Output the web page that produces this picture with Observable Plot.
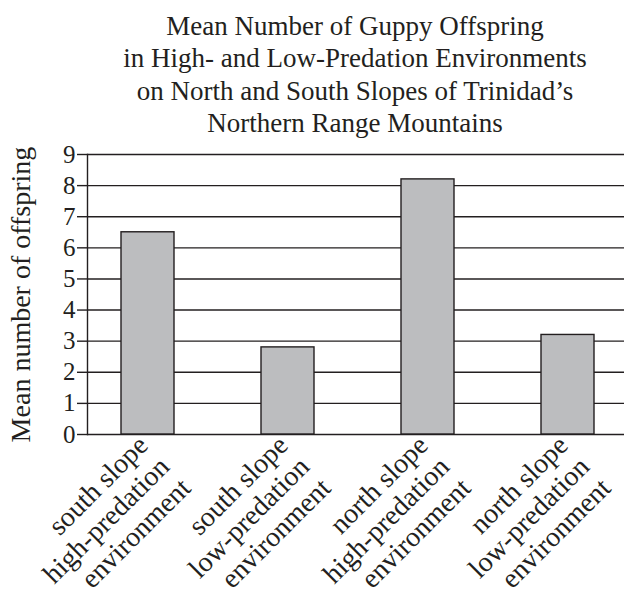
<!DOCTYPE html>
<html>
<head>
<meta charset="utf-8">
<script src="https://cdn.jsdelivr.net/npm/d3@7"></script>
<script src="https://cdn.jsdelivr.net/npm/@observablehq/plot@0.6"></script>
<style>
  html, body { margin: 0; padding: 0; background: #fff; }
  #wrap { width: 625px; height: 591px; overflow: hidden; }
  #title {
    box-sizing: border-box; height: 140px; padding-top: 10px; padding-left: 85px;
    text-align: center; font-family: "Liberation Serif", "DejaVu Serif", serif;
    font-size: 27px; line-height: 32.3px; color: #231f20;
  }
  svg { display: block; overflow: visible; }
</style>
</head>
<body>
<div id="wrap">
  <div id="title">Mean Number of Guppy Offspring<br>in High- and Low-Predation Environments<br>on North and South Slopes of Trinidad’s<br>Northern Range Mountains</div>
  <div id="chart"></div>
</div>
<script>
const categories = [
  "south slope\nhigh-predation\nenvironment",
  "south slope\nlow-predation\nenvironment",
  "north slope\nhigh-predation\nenvironment",
  "north slope\nlow-predation\nenvironment"
];
const values = [6.5, 2.8, 8.2, 3.2];
const yTicks = [0, 1, 2, 3, 4, 5, 6, 7, 8, 9];
const yLabel = "Mean number of offspring";

const data = categories.map((c, i) => ({category: c, value: values[i]}));
const ink = "#231f20";
const serif = "Liberation Serif, DejaVu Serif, serif";

const chart = Plot.plot({
  width: 625,
  height: 451,
  marginTop: 14,
  marginBottom: 157,
  marginLeft: 87,
  marginRight: 1,
  style: {fontFamily: serif, color: ink, background: "#fff", overflow: "visible"},
  x: {domain: categories, paddingInner: 0.624, paddingOuter: 0.2165, align: 0.533, axis: null},
  y: {domain: [0, 9], ticks: yTicks},
  marks: [
    Plot.gridY(yTicks, {stroke: ink, strokeOpacity: 1, strokeWidth: 1.4}),
    Plot.barY(data, {x: "category", y: "value", fill: "#bcbdbf", stroke: ink, strokeWidth: 1.4}),
    Plot.frame({anchor: "left", stroke: ink, strokeWidth: 1.4}),
    Plot.axisY(yTicks, {tickSize: 10, tickPadding: 2, fontSize: 25, label: null, stroke: ink, strokeWidth: 1.4, fill: ink}),
    Plot.text([yLabel], {frameAnchor: "left", rotate: -90, dx: -77, textAnchor: "middle", lineAnchor: "top", fontSize: 28, fill: ink}),
    Plot.text(data, {x: "category", y: () => 0, text: "category", rotate: -45, textAnchor: "end", lineAnchor: "middle", lineHeight: 1.08, dx: 16, dy: 27, fontSize: 28, fill: ink})
  ]
});
document.getElementById("chart").appendChild(chart);
</script>
</body>
</html>
